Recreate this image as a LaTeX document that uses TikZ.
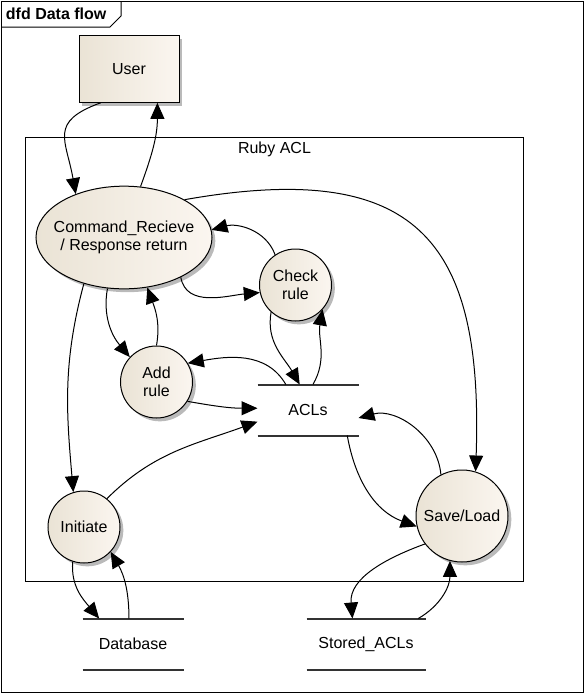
\documentclass[tikz,border=0pt]{standalone}
\usepackage{fontspec}
\setmainfont{Liberation Sans}
\usepackage{tikz}
\usetikzlibrary{positioning,shapes,shadows,arrows.meta}
\definecolor{beigeL}{RGB}{234,227,213}
\definecolor{beigeR}{RGB}{251,246,240}
\tikzstyle{entity}=[rectangle, draw=black, left color=beigeL, right color=beigeR,
        drop shadow={shadow xshift=2.5pt, shadow yshift=-2.5pt, fill=black!60, opacity=0.45},
        minimum width=75pt, minimum height=50pt]
\tikzstyle{process}=[circle, draw=black, left color=beigeL, right color=beigeR,
        drop shadow={shadow xshift=2.5pt, shadow yshift=-2.5pt, fill=black!60, opacity=0.45},
        inner sep=0pt, align=center]
\tikzstyle{store}=[rectangle, minimum width=75pt, minimum height=37.5pt]
\tikzstyle{storeline}=[line width=1.5pt, black!80]
\tikzstyle{flow}=[-{Triangle[length=12pt,width=10.5pt]}]

\begin{document}
\begin{tikzpicture}[x=0.75pt, y=0.75pt, line width=0.75pt, font=\fontsize{12}{13.5}\selectfont]
	\useasboundingbox (0,0) rectangle (585,-694);

	% frame
	\draw (1,-1) rectangle (583,-692);
	\draw (1,-27) -- (110,-27) -- (121,-16) -- (121,-1);
	\node (title) [anchor=west, font=\fontsize{12}{13.5}\selectfont\bfseries] at (1,-14) {dfd Data flow};

	\node (ruby) [draw, minimum width=374pt, minimum height=333pt] at (274.5,-359) {};
	\node (rubylabel) [anchor=north] at (ruby.north) {Ruby ACL};

	\node (user) [entity] at (129,-69) {User};

	\node (cmd) [process, ellipse, minimum width=132pt, minimum height=77pt, inner xsep=-8pt] at (124,-237.5)
        {Command\_Recieve\\/ Response return};
	\node (check) [process, minimum size=54pt] at (295.5,-285) {Check\\rule};
	\node (addrule) [process, minimum size=54pt] at (156.5,-382) {Add\\rule};
	\node (initiate) [process, minimum size=54pt] at (84,-527) {Initiate};
	\node (saveload) [process, minimum size=69pt] at (462,-516) {Save/Load};

	\node (acls) [store] at (308,-410) {ACLs};
	\node (database) [store] at (133,-644) {Database};
	\node (storedacls) [store, minimum width=88.5pt] at (366,-644) {Stored\_ACLs};
	\foreach \s in {acls,database,storedacls}
	{
		\draw[storeline] (\s.north west) -- (\s.north east);
		\draw[storeline] (\s.south west) -- (\s.south east);
	}

\draw[flow] (user.230) to[out=200,in=100,looseness=1.5] (cmd.138);
\draw[flow] (cmd.72) to[out=70,in=-90] (user.310);
\draw[flow] (cmd.32) to[out=10,in=88,looseness=1.5] (saveload.73);
\draw[flow] (check.124) to[out=110,in=15] (cmd.5);
\draw[flow] (cmd.-35) to[out=-80,in=185] (check.192);
\draw[flow] (cmd.252) to[out=260,in=130] (addrule.137);
\draw[flow] (addrule.90) to[out=80,in=-70] (cmd.295);
\draw[flow] (check.228) to[out=260,in=120] (acls.108);
\draw[flow] (acls.79) to[out=60,in=260] (check.318);
\draw[flow] (acls.131) to[out=120,in=10] (addrule.31);
\draw[flow] (addrule.-32) to[out=-10,in=180] (acls.178);
\draw[flow] (initiate.51) to[out=45,in=200] (acls.193);
\draw[flow] (cmd.229) to[out=255,in=95] (initiate.107);
\draw[flow] (acls.327) to[out=-80,in=160] (saveload.193);
\draw[flow] (saveload.117) to[out=95,in=15] (acls.351);
\draw[flow] (initiate.252) to[out=265,in=130] (database.143);
\draw[flow] (database.99) to[out=90,in=300] (initiate.317);
\draw[flow] (saveload.217) to[out=200,in=95] (storedacls.118);
\draw[flow] (storedacls.26) to[out=30,in=270] (saveload.255);

\end{tikzpicture}
\end{document}
